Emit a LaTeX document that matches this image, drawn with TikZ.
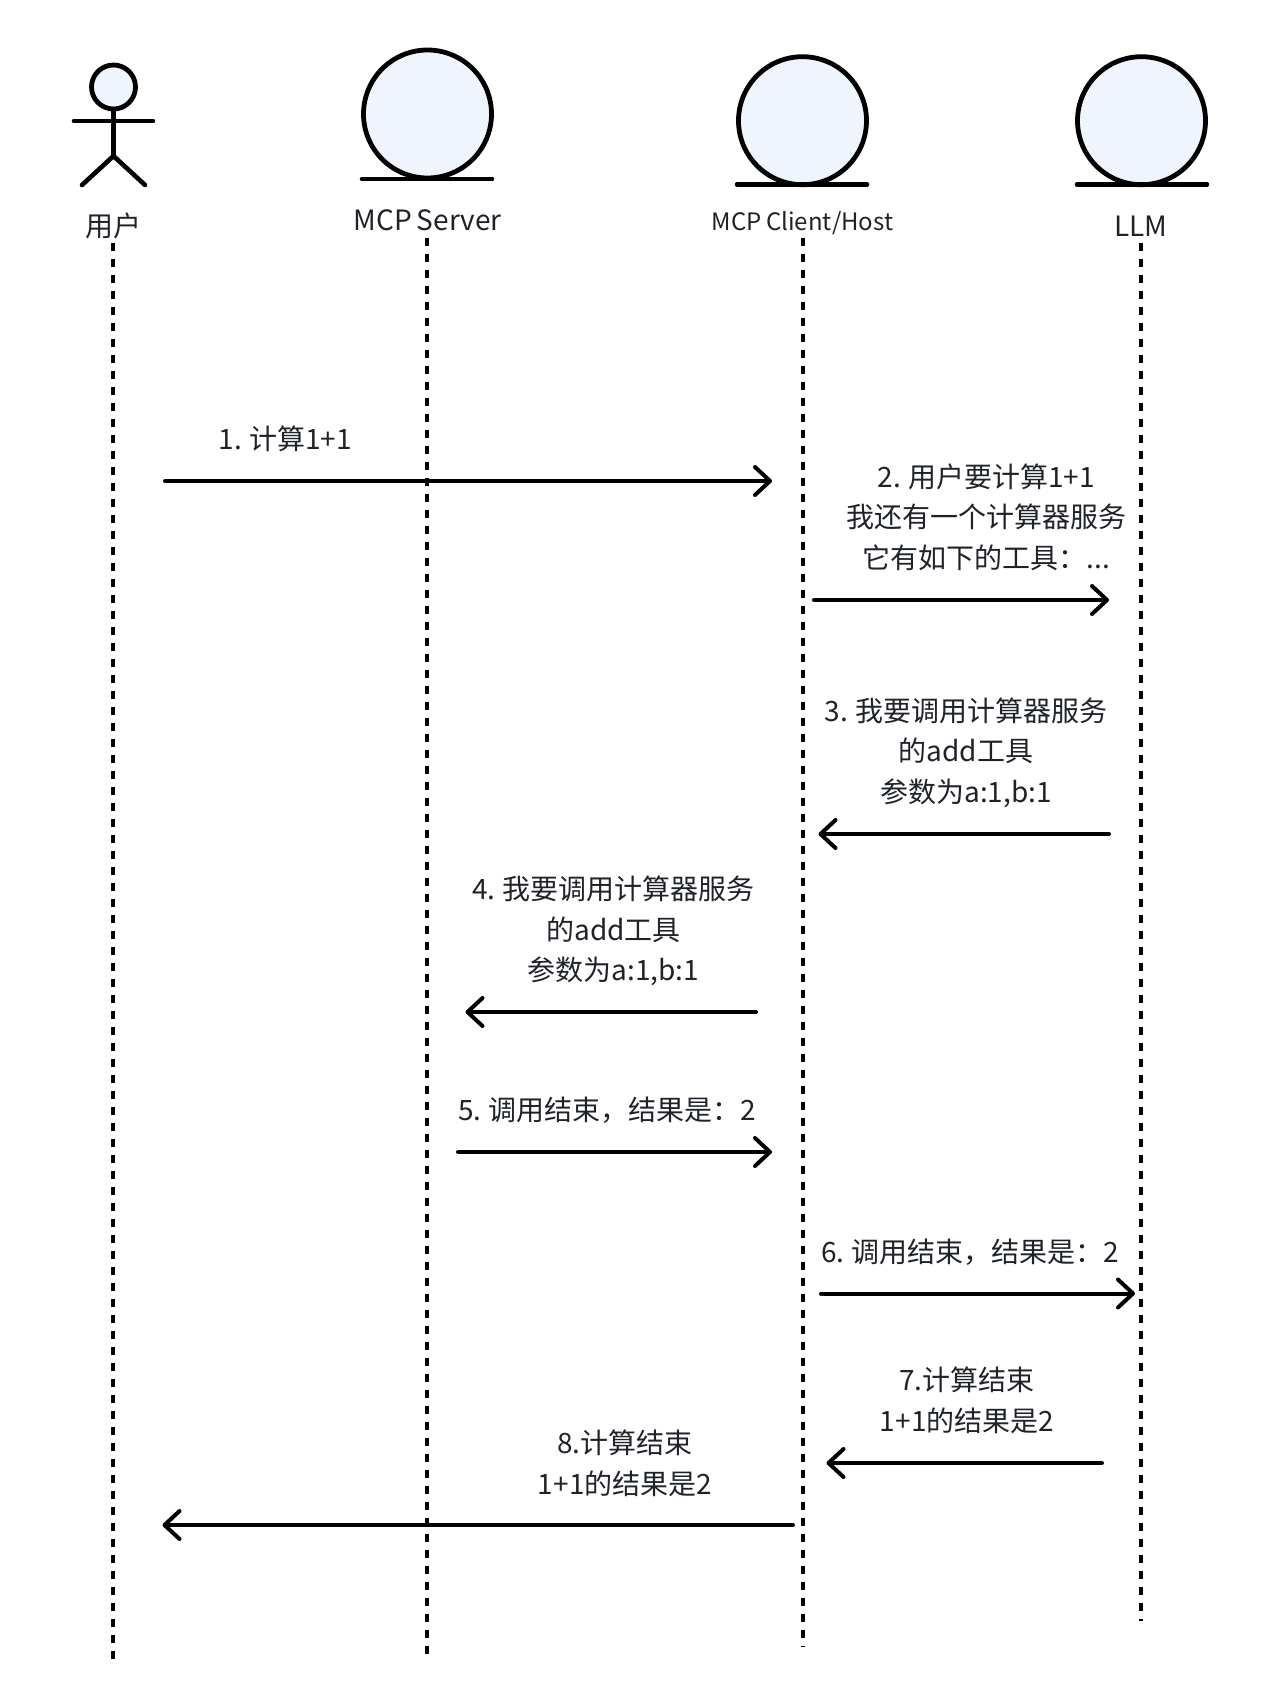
\documentclass[tikz,border=0pt]{standalone}
\usepackage{fontspec}
\setmainfont[WordSpace=0.8]{Noto Sans CJK SC}
\usetikzlibrary{arrows.meta}
\definecolor{ink}{HTML}{1F2329}
\definecolor{soft}{HTML}{EFF4FD}
\tikzset{
  x=1pt,y=-1pt,
  every node/.style={text=ink,font=\fontsize{28}{40.5}\selectfont,inner sep=0pt,align=center},
  ball/.style={circle,draw=black,fill=soft,line width=4.8pt,minimum size=128pt},
  base/.style={draw=black,line width=4.6pt,line cap=round},
  stick/.style={draw=black,line width=4.6pt,line cap=round,line join=round},
  life/.style={draw=black,line width=4pt,dash pattern=on 8pt off 8pt},
  msg/.style={draw=black,line width=4pt,line cap=round,-{Straight Barb[length=15pt,width=28pt,line width=4pt,round]}},
}
\begin{document}
\begin{tikzpicture}
\useasboundingbox (0,0) rectangle (1282,1708);
% actors
\node[ball,minimum size=44pt] (head) at (113.5,87) {};
\coordinate (hip) at (113.5,156);
\coordinate (armL) at (74,121);
\coordinate (armR) at (153,121);
\coordinate (legL) at (82,185);
\coordinate (legR) at (145,185);
\draw[stick] (head.south) -- (hip);
\draw[stick] (armL) -- (armR);
\draw[stick] (legL) -- (hip) -- (legR);
\node[ball] (srv) at (427.5,114) {};
\node[ball] (cli) at (802.5,120.7) {};
\node[ball] (llm) at (1141.5,120.7) {};
\coordinate (srvL) at (362,179);
\coordinate (srvR) at (492,179);
\coordinate (cliL) at (737,184.5);
\coordinate (cliR) at (867,184.5);
\coordinate (llmL) at (1077,184.5);
\coordinate (llmR) at (1207,184.5);
\draw[base] (srvL) -- (srvR);
\draw[base] (cliL) -- (cliR);
\draw[base] (llmL) -- (llmR);
% titles
\node (tuser) at (113,225.5) {用户};
\node (tsrv) at (427.5,220) {MCP Server};
\node[font=\fontsize{24}{30}\selectfont] (tcli) at (802.5,223.5) {MCP Client/Host};
\node (tllm) at (1141,226) {LLM};
% lifelines
\coordinate (a0) at (113,243); \coordinate (a1) at (113,1660);
\coordinate (b0) at (427,238); \coordinate (b1) at (427,1654);
\coordinate (c0) at (803,238); \coordinate (c1) at (803,1647);
\coordinate (d0) at (1141,243); \coordinate (d1) at (1141,1621);
\draw[life] (a0) -- (a1);
\draw[life] (b0) -- (b1);
\draw[life] (c0) -- (c1);
\draw[life] (d0) -- (d1);
% messages
\coordinate (m1a) at (165,481); \coordinate (m1b) at (772,481);
\coordinate (m2a) at (814,600); \coordinate (m2b) at (1109,600);
\coordinate (m3a) at (1109,834); \coordinate (m3b) at (818.5,834);
\coordinate (m4a) at (756,1012); \coordinate (m4b) at (465.5,1012);
\coordinate (m5a) at (458,1152); \coordinate (m5b) at (772,1152);
\coordinate (m6a) at (821,1293.5); \coordinate (m6b) at (1135,1293.5);
\coordinate (m7a) at (1102,1463); \coordinate (m7b) at (826.5,1463);
\coordinate (m8a) at (793,1525); \coordinate (m8b) at (162.5,1525);
\foreach \n in {1,...,8} {\draw[msg] (m\n a) -- (m\n b);}
% labels
\node (l1) at (285.5,439) {1. 计算1+1};
\node (l2) at (986.5,517) {2. 用户要计算1+1\\我还有一个计算器服务\\它有如下的工具：...};
\node (l3) at (966,752.5) {3. 我要调用计算器服务\\的add工具\\参数为a:1,b:1};
\node (l4) at (613.5,931) {4. 我要调用计算器服务\\的add工具\\参数为a:1,b:1};
\node (l5) at (607,1110) {5. 调用结束，结果是：2};
\node (l6) at (970,1252) {6. 调用结束，结果是：2};
\node (l7) at (967,1400.5) {7.计算结束\\1+1的结果是2};
\node (l8) at (625,1463.5) {8.计算结束\\1+1的结果是2};
\end{tikzpicture}
\end{document}
